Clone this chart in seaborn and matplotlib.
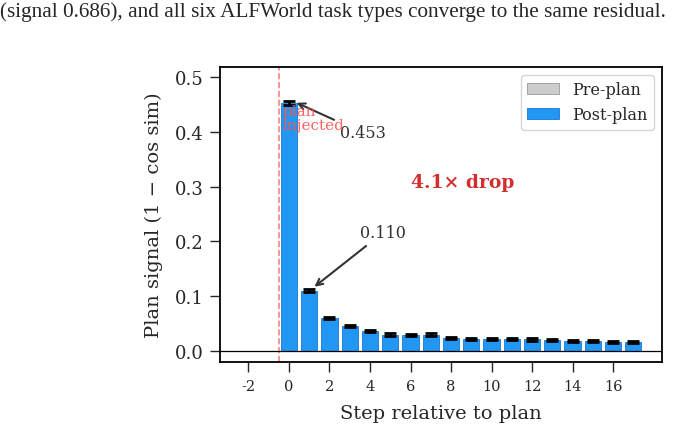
import matplotlib
matplotlib.use("Agg")
import matplotlib.pyplot as plt
import numpy as np
import pandas as pd
import seaborn as sns

# datos
pre_steps = [-2, -1]
pre_signal = [0.0005, 0.0005]
post_steps = list(range(0, 18))
post_signal = [0.453, 0.110, 0.060, 0.045, 0.036, 0.030, 0.029, 0.030, 0.023,
               0.022, 0.022, 0.022, 0.021, 0.020, 0.018, 0.018, 0.017, 0.017]
post_err = [0.004, 0.003, 0.002, 0.002, 0.002, 0.002, 0.002, 0.002, 0.002,
            0.002, 0.002, 0.002, 0.002, 0.002, 0.002, 0.002, 0.002, 0.002]
xticks = list(range(-2, 17, 2))
caption = "(signal 0.686), and all six ALFWorld task types converge to the same residual."

df = pd.DataFrame({
    "step": pre_steps + post_steps,
    "signal": pre_signal + post_signal,
    "phase": ["Pre-plan"] * len(pre_steps) + ["Post-plan"] * len(post_steps),
})

sns.set_style("ticks")
plt.rcParams["font.family"] = ["DejaVu Serif"]

fig = plt.figure(figsize=(6.9, 4.31), dpi=100)
ax = fig.add_axes([0.319, 0.158, 0.640, 0.684])

colores = {"Pre-plan": "#cccccc", "Post-plan": "#2196F3"}
bordes = {"Pre-plan": "#999999", "Post-plan": "#1976D2"}

sns.barplot(
    data=df, x="step", y="signal", hue="phase", native_scale=True, dodge=False,
    palette=colores, saturation=1, edgecolor="#1976D2", linewidth=0.6,
    width=0.8, errorbar=None, ax=ax,
)
for p in ax.patches[:len(pre_steps)]:
    p.set_edgecolor(bordes["Pre-plan"])

ax.errorbar(post_steps, post_signal, yerr=post_err, fmt="none",
            ecolor="black", elinewidth=2, capsize=4, capthick=2)

ax.axvline(-0.5, color="#ff6b6b", linestyle="--", linewidth=1.2, alpha=0.85)
ax.axhline(0, color="black", linewidth=0.9)

ax.text(-0.3, 0.425, "plan\ninjected", color="#ff5252", alpha=0.9,
        fontsize=11, va="center", ha="left", linespacing=1.0, zorder=10)
ax.annotate("0.453", xy=(0.25, 0.455), xytext=(2.5, 0.39),
            fontsize=11.5, color="#333333",
            arrowprops=dict(arrowstyle="->", color="#333333", lw=1.5))
ax.annotate("0.110", xy=(1.15, 0.114), xytext=(4.65, 0.208),
            fontsize=11.5, color="#333333", ha="center",
            arrowprops=dict(arrowstyle="->", color="#333333", lw=1.5))
ax.text(8.56, 0.308, "4.1× drop", color="#d32f2f", fontsize=13.5,
        fontweight="bold", ha="center", va="center")

ax.set_xlim(-3.4, 18.4)
ax.set_ylim(-0.02, 0.518)
ax.set_xticks(xticks)
ax.set_xticklabels([str(t) for t in xticks], fontsize=10.5)
ax.set_yticks([0.0, 0.1, 0.2, 0.3, 0.4, 0.5])
ax.tick_params(axis="y", labelsize=13, length=7, width=1, pad=5)
ax.tick_params(axis="x", length=7, width=1, pad=5)
ax.set_xlabel("Step relative to plan", fontsize=14, labelpad=8)
ax.set_ylabel("Plan signal (1 − cos sim)", fontsize=14, labelpad=8)
for s in ax.spines.values():
    s.set_visible(True)
    s.set_linewidth(1.3)
    s.set_color("black")

leg = ax.legend(loc="upper right", fontsize=11.5, frameon=True, title=None)
leg.get_frame().set_edgecolor("#cccccc")
for h, t in zip(leg.legend_handles, leg.get_texts()):
    h.set_edgecolor(bordes[t.get_text()])

fig.text(0.0, 0.972, caption, fontsize=15.3, family=["Liberation Serif"],
         ha="left", va="center")

fig.savefig("out.png", dpi=100)
